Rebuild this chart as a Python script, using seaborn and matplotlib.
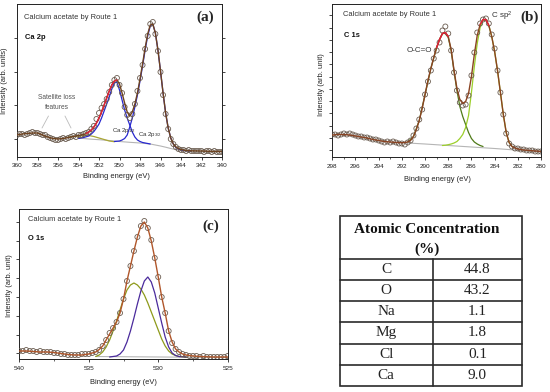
import numpy as np
import matplotlib
matplotlib.use("Agg")
import matplotlib.pyplot as plt
import seaborn as sns
from matplotlib.patches import Rectangle

# ---------------- data ----------------
# Panel (a) Ca 2p : measured points, 360 -> 340 eV
a_range = (360, 340)
a_data = [22, 23, 23, 22, 23, 24, 25, 24, 24, 23,
          22, 22, 20, 19, 18, 17, 17, 18, 19, 18,
          19, 20, 21, 20, 22, 22, 23, 24, 25, 28,
          31, 38, 44, 49, 53, 58, 65, 72, 77, 79,
          72, 64, 50, 42, 39, 43, 53, 66, 79, 92,
          108, 121, 133, 135, 123, 106, 85, 62, 43, 28,
          18, 13, 10, 8, 7, 7, 6, 7, 6, 6,
          6, 6, 6, 5, 6, 6, 5, 6, 5, 5,
          5]
a_env_E = [360, 359.5, 359, 358.5, 358, 357.5, 357, 356.5, 356, 355.5, 355, 354.5, 354, 353.5,
           353.25, 353, 352.75, 352.5, 352.25, 352, 351.75, 351.5, 351.25, 351, 350.75, 350.5,
           350.25, 350, 349.75, 349.5, 349.25, 349, 348.75, 348.5, 348.25, 348, 347.75, 347.5,
           347.25, 347, 346.75, 346.5, 346.25, 346, 345.75, 345.5, 345.25, 345, 344.75, 344.5,
           344.25, 344, 343.5, 343, 342, 341, 340]
a_env_I = [22, 23, 23.5, 24, 24, 22, 20, 18.5, 18, 18.5, 19.5, 20.5, 21.5, 22.5,
           23.5, 25, 27, 30, 34, 39, 45, 52, 59, 66, 72, 76,
           77, 73, 64, 54, 45, 41, 45, 53, 64, 78, 93, 109,
           123, 132, 133, 124, 107, 86, 64, 44, 29, 19, 13, 10,
           8.5, 7.5, 6.5, 6.2, 6, 5.6, 5.5]
a_bg_E = [354, 353, 352, 351, 350, 349, 348, 347, 346, 345.5, 345, 344.5, 344, 343, 342, 340]
a_bg_I = [19, 18, 17.3, 16.5, 15.5, 14.7, 14, 13, 11, 9.8, 8.5, 7.3, 6.5, 5.8, 5.5, 5.2]
a_p12_E = [354, 353.5, 353, 352.75, 352.5, 352.25, 352, 351.75, 351.5, 351.25, 351, 350.75, 350.5,
           350.25, 350, 349.75, 349.5, 349.25, 349, 348.75, 348.5, 348.25, 348, 347.75, 347.5, 347]
a_p12_I = [18.5, 19.5, 21, 23, 25.5, 29, 33, 39, 46, 53, 60, 68, 74,
           75, 67, 57, 47, 39, 32, 25, 20, 17, 15.5, 14.5, 14, 13]
a_p32_E = [350.5, 350, 349.75, 349.5, 349.25, 349, 348.75, 348.5, 348.25, 348, 347.75, 347.5, 347.25,
           347, 346.75, 346.5, 346.25, 346, 345.75, 345.5, 345.25, 345, 344.75, 344.5, 344.25, 344,
           343.5, 343]
a_p32_I = [15.5, 16, 17, 18.5, 22, 30, 39, 50, 62, 76, 91, 107, 121,
           131, 133, 124, 107, 86, 64, 44, 29, 19, 13, 9.5, 8, 7,
           6.2, 5.8]
a_sat_E = [355, 354.5, 354, 353.5, 353, 352.5, 352, 351.5, 351, 350.5]
a_sat_I = [20, 20.5, 21, 21.5, 21.5, 20.5, 19, 17.5, 16, 15.3]

# Panel (b) C 1s : measured points, 298 -> 280 eV
b_range = (298, 280)
b_data = [22, 22, 21, 22, 23, 22, 23, 22, 21, 20,
          20, 19, 19, 18, 17, 17, 16, 15, 14, 15,
          14, 15, 14, 13, 13,
          12, 14, 16, 21, 28, 37, 47, 62, 75, 86,
          98, 106, 114, 126, 130, 123, 106, 84, 66, 54,
          51, 52, 61, 81, 104, 124, 133, 137, 138, 133,
          122, 108, 86, 64, 42, 23, 13, 10, 8, 8,
          7, 7, 6, 6, 6, 5, 5, 5]
b_env_E = [298, 297.5, 297, 296.5, 296, 295.5, 295, 294.5, 294, 293.5, 293, 292.5, 292,
           291.75, 291.5, 291.25, 291, 290.75, 290.5, 290.25, 290, 289.75, 289.5,
           289.25, 289, 288.75, 288.5, 288.25, 288, 287.75, 287.5, 287.25, 287,
           286.75, 286.5, 286.25, 286, 285.75, 285.5, 285.25, 285, 284.75, 284.5,
           284.25, 284, 283.75, 283.5, 283.25, 283, 282.75, 282.5, 282.25, 282,
           281.5, 281, 280.5, 280]
b_env_I = [21.5, 22, 22, 21.5, 20.5, 19.5, 18.5, 17, 16, 15, 14.5, 14, 13.8,
           14, 14.5, 16, 20, 27, 36, 48, 62, 76, 88,
           99, 109, 117, 123, 124, 120, 107, 86, 68, 57,
           53, 55, 63, 80, 102, 121, 132, 137, 137, 131,
           120, 105, 86, 64, 42, 24, 14, 10, 8.5, 7.5,
           6.5, 6, 5.5, 5]
b_oco_E = [291.5, 291, 290.5, 290, 289.5, 289, 288.75, 288.5, 288.25, 288, 287.75, 287.5, 287.25,
           287, 286.75, 286.5, 286.25, 286, 285.75, 285.5, 285.25, 285]
b_oco_I = [14.5, 20, 36, 62, 88, 109, 117, 123, 123, 119, 106, 85, 66,
           50, 40, 32, 24, 18, 14.5, 12.5, 11, 10]
b_sp2_E = [288.5, 288.25, 288, 287.75, 287.5, 287.25, 287, 286.75, 286.5, 286.25, 286, 285.75,
           285.5, 285.25, 285, 284.75, 284.5, 284.25, 284, 283.75, 283.5, 283.25, 283, 282.75, 282.5]
b_sp2_I = [11, 11.3, 11.8, 12.5, 13.5, 15, 18, 22, 29, 41, 64, 90,
           113, 129, 136, 137, 131, 120, 105, 86, 64, 42, 24, 14, 10]
b_bg_E = [291.5, 290, 288, 286, 284, 282, 280]
b_bg_I = [13.5, 12.5, 11, 9.5, 8, 6.3, 5]

# Panel (c) O 1s : measured points, 540 -> 525 eV
c_range = (540, 525)
c_data = [8, 8, 9, 8, 8, 7, 8, 7, 7, 7,
          6, 6, 5, 5, 4, 4, 4, 4, 5, 5,
          5,
          6, 7, 9, 13, 19, 26, 31, 37, 46, 60,
          78, 93, 108, 122, 133, 138, 131, 119, 101, 82,
          62, 46, 28, 16, 10, 7, 5, 4, 3, 3,
          3, 2, 3, 2, 2, 2, 2, 2, 2, 3]
c_env_E = [540, 539.5, 539, 538.5, 538, 537.5, 537, 536.5, 536, 535.5, 535,
           534.75, 534.5, 534.25, 534, 533.75, 533.5, 533.25, 533, 532.75, 532.5,
           532.25, 532, 531.75, 531.5, 531.25, 531, 530.75, 530.5, 530.25, 530,
           529.75, 529.5, 529.25, 529, 528.75, 528.5, 528.25, 528,
           527.5, 527, 526, 525]
c_env_I = [8, 8, 7.5, 7, 7, 6.5, 5.5, 4.5, 4, 4, 5,
           6, 7, 9.5, 13, 19, 25, 31, 37, 46, 60,
           78, 93, 108, 122, 133, 137, 131, 118, 101, 82,
           62, 46, 28, 17, 10, 7, 5, 4,
           3, 2.5, 2, 2]
c_olive_E = [534.5, 534.25, 534, 533.75, 533.5, 533.25, 533, 532.75, 532.5, 532.25, 532, 531.75,
             531.5, 531.25, 531, 530.75, 530.5, 530.25, 530, 529.75, 529.5, 529.25, 529, 528.75,
             528.5, 528.25, 528]
c_olive_I = [2.5, 4, 7, 12, 19, 28, 38, 49, 60, 69, 74, 76,
             74, 70, 64, 56, 47, 38, 29, 20, 13, 8, 5, 3.5,
             2.5, 2.2, 2]
c_purple_E = [533.5, 533, 532.75, 532.5, 532.25, 532, 531.75, 531.5, 531.25, 531, 530.75, 530.5,
              530.25, 530, 529.75, 529.5, 529.25, 529, 528.75, 528.5, 528]
c_purple_I = [2, 3, 5, 9, 17, 28, 41, 55, 68, 78, 82, 77,
              66, 51, 36, 22, 12, 6, 3.5, 2.5, 2]
c_bg_E = [534.5, 525]
c_bg_I = [2.5, 1.5]

# Table
elements = ["C", "O", "Na", "Mg", "Cl", "Ca"]
concentrations = [44.8, 43.2, 1.1, 1.8, 0.1, 9.0]

# ---------------- style ----------------
sns.set_style("ticks")
plt.rcParams["font.family"] = ["Liberation Sans", "DejaVu Sans"]
plt.rcParams["mathtext.fontset"] = "custom"
plt.rcParams["mathtext.rm"] = "Liberation Sans"
plt.rcParams["mathtext.it"] = "Liberation Sans:italic"
plt.rcParams["mathtext.bf"] = "Liberation Sans:bold"

W, H = 550, 392
fig = plt.figure(figsize=(W / 100, H / 100), dpi=100)


def add_ax(l, r, t, b):
    return fig.add_axes([l / W, 1 - b / H, (r - l) / W, (b - t) / H])


PT_COLOR = "#6a5c50"
TXT = "#333333"


def line(ax, E, I, color, lw=0.9, z=2):
    sns.lineplot(x=E, y=I, ax=ax, color=color, lw=lw, estimator=None, sort=False, zorder=z)


def points(ax, rng, vals):
    E = np.linspace(rng[0], rng[1], len(vals))
    sns.scatterplot(x=E, y=vals, ax=ax, marker="o", s=13, facecolor="none",
                    edgecolor=PT_COLOR, linewidth=0.6, zorder=3)


def style(ax, rng, ymax, xmaj, xmin_step, yt, ylabel, tick_pad, xlab_xy, ylab_xy):
    ax.set_xlim(rng[0], rng[1])
    ax.set_ylim(0, ymax)
    ax.set_xticks(np.arange(rng[1], rng[0] + 0.01, xmaj))
    if xmin_step:
        ax.set_xticks(np.arange(rng[1], rng[0] + 0.01, xmin_step), minor=True)
    ax.set_yticks(yt)
    ax.set_yticklabels([])
    ax.tick_params(axis="x", which="major", labelsize=4.6, length=2.5, width=0.6, pad=tick_pad,
                   direction="out", colors="#222222")
    ax.tick_params(axis="x", which="minor", length=1.5, width=0.5, direction="out")
    ax.tick_params(axis="y", length=2.2, width=0.6, direction="out")
    for s in ax.spines.values():
        s.set_visible(True)
        s.set_linewidth(0.7)
        s.set_color("#222222")
    ax.set_xlabel("Binding energy (eV)", fontsize=5.4, color="#222222")
    ax.set_ylabel(ylabel, fontsize=5.4, color="#222222")
    ax.xaxis.set_label_coords(*xlab_xy)
    ax.yaxis.set_label_coords(*ylab_xy)


# ---------------- panel (a) ----------------
axa = add_ax(17, 222, 4, 157)
line(axa, a_bg_E, a_bg_I, "#b5b5b5", lw=0.8)
line(axa, a_sat_E, a_sat_I, "#a9a535", lw=0.9)
line(axa, a_p12_E, a_p12_I, "#2727cf", lw=0.9)
line(axa, a_p32_E, a_p32_I, "#2727cf", lw=0.9)
line(axa, a_env_E, a_env_I, "#6e4320", lw=1.0, z=4)
mask = (np.array(a_env_E) <= 353.25) & (np.array(a_env_E) >= 350.25)
line(axa, list(np.array(a_env_E)[mask]), list(np.array(a_env_I)[mask]), "#e3203a", lw=1.0, z=4)
points(axa, a_range, a_data)
style(axa, a_range, 153, 2, None, np.arange(18.3, 150, 33.4), "Intensity (arb. units)",
      1.8, (0.483, -0.105), (-0.042, 0.5))
axa.tick_params(axis="y", right=True)
axa.text(0.034, 0.915, "Calcium acetate by Route 1", transform=axa.transAxes, fontsize=5.4,
         color=TXT, va="center")
axa.text(0.039, 0.784, "Ca 2p", transform=axa.transAxes, fontsize=5.4, weight="bold",
         color="#111111", va="center")
axa.text(0.917, 0.915, "(a)", transform=axa.transAxes, fontsize=11, weight="bold",
         family="Liberation Serif", ha="center", va="center")
axa.text(0.195, 0.386, "Satellite loss", transform=axa.transAxes, fontsize=4.8, color="#555555",
         ha="center", va="center")
axa.text(0.195, 0.322, "features", transform=axa.transAxes, fontsize=4.8, color="#555555",
         ha="center", va="center")
axa.plot([356.93, 357.56], [41, 29], color="#bbbbbb", lw=0.6)
axa.plot([355.32, 354.73], [41, 29], color="#bbbbbb", lw=0.6)
axa.text(0.463, 0.176, r"Ca 2p$_{\mathrm{1/2}}$", transform=axa.transAxes, fontsize=4.4,
         color=TXT, va="center")
axa.text(0.59, 0.144, r"Ca 2p$_{\mathrm{3/2}}$", transform=axa.transAxes, fontsize=4.4,
         color=TXT, va="center")

# ---------------- panel (b) ----------------
axb = add_ax(332.3, 541, 4, 156.5)
line(axb, b_bg_E, b_bg_I, "#b5b5b5", lw=0.8)
line(axb, b_oco_E, b_oco_I, "#4f7a18", lw=0.9)
line(axb, b_sp2_E, b_sp2_I, "#9ccf2a", lw=0.9)
line(axb, b_env_E, b_env_I, "#8a4322", lw=1.0, z=4)
bE = np.array(b_env_E)
bI = np.array(b_env_I)
for lo, hi in [(288.0, 289.0), (284.5, 285.25)]:
    m = (bE >= lo) & (bE <= hi)
    line(axb, list(bE[m]), list(bI[m]), "#e3203a", lw=1.0, z=4)
points(axb, b_range, b_data)
style(axb, b_range, 152.5, 2, 1, np.arange(6.5, 150, 12.25), "Intensity (arb. unit)",
      3.0, (0.506, -0.128), (-0.034, 0.47))
axb.text(0.051, 0.928, "Calcium acetate by Route 1", transform=axb.transAxes, fontsize=5.4,
         color=TXT, va="center")
axb.text(0.057, 0.792, "C 1s", transform=axb.transAxes, fontsize=5.4, weight="bold",
         color="#111111", va="center")
axb.text(0.415, 0.692, "O-C=O", transform=axb.transAxes, fontsize=5.8, color=TXT,
         ha="center", va="center")
axb.text(0.762, 0.921, r"C sp$^{2}$", transform=axb.transAxes, fontsize=5.8, color=TXT,
         va="center")
axb.text(0.943, 0.915, "(b)", transform=axb.transAxes, fontsize=11, weight="bold",
         family="Liberation Serif", ha="center", va="center")

# ---------------- panel (c) ----------------
axc = add_ax(19.3, 227.7, 209, 359)
line(axc, c_bg_E, c_bg_I, "#b5b5b5", lw=0.8)
line(axc, c_olive_E, c_olive_I, "#8e9a1b", lw=0.9)
line(axc, c_purple_E, c_purple_I, "#4a2a9c", lw=0.9)
line(axc, c_env_E, c_env_I, "#b0562a", lw=1.0, z=4)
points(axc, c_range, c_data)
style(axc, c_range, 150, 5, 2.5, np.arange(5.7, 150, 18.8), "Intensity (arb. unit)",
      2.8, (0.502, -0.132), (-0.028, 0.487))
axc.text(0.042, 0.933, "Calcium acetate by Route 1", transform=axc.transAxes, fontsize=5.4,
         color=TXT, va="center")
axc.text(0.042, 0.80, "O 1s", transform=axc.transAxes, fontsize=5.4, weight="bold",
         color="#111111", va="center")
axc.text(0.919, 0.887, "(c)", transform=axc.transAxes, fontsize=11, weight="bold",
         family="Liberation Serif", ha="center", va="center")

# ---------------- table ----------------
axt = add_ax(340, 522.3, 216, 386)
axt.set_xlim(0, 1)
axt.set_ylim(0, 1)
axt.axis("off")
tc = "#2a2a2a"
axt.add_patch(Rectangle((0, 0), 1, 1, fill=False, lw=1.2, edgecolor=tc, clip_on=False))
head_h = 0.251
row_h = (1 - head_h) / len(elements)
axt.plot([0, 1], [1 - head_h, 1 - head_h], color=tc, lw=1.2, clip_on=False)
for k in range(1, len(elements)):
    y = 1 - head_h - k * row_h
    axt.plot([0, 1], [y, y], color=tc, lw=1.2, clip_on=False)
axt.plot([0.5085, 0.5085], [0, 1 - head_h], color=tc, lw=1.2, clip_on=False)
axt.text(0.477, 0.922, "Atomic Concentration", fontsize=11, weight="bold",
         family="Liberation Serif", ha="center", va="center", color="#111111")
axt.text(0.477, 0.804, "(%)", fontsize=11, weight="bold",
         family="Liberation Serif", ha="center", va="center", color="#111111")
for k, (el, val) in enumerate(zip(elements, concentrations)):
    yc = 1 - head_h - (k + 0.5) * row_h
    axt.text(0.254, yc, el, fontsize=11, family="Liberation Serif", ha="center",
             va="center", color="#222222")
    axt.text(0.754, yc, f"{val:.1f}", fontsize=11, family="Liberation Serif", ha="center",
             va="center", color="#222222")

fig.savefig("out.png", dpi=100)
